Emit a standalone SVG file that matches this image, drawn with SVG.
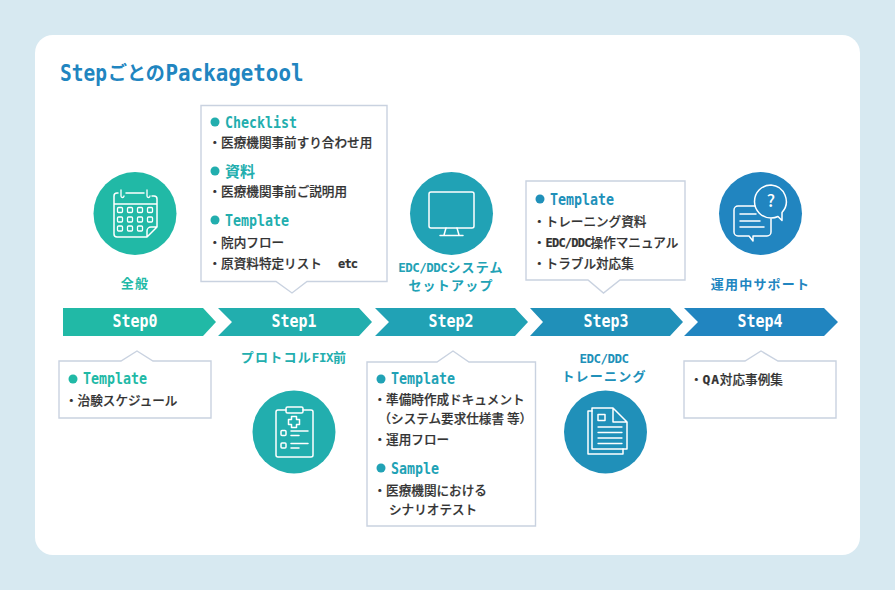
<svg xmlns="http://www.w3.org/2000/svg" width="895" height="590" viewBox="0 0 895 590">
<style>
text{font-family:"Noto Sans CJK JP","Noto Sans",sans-serif}
.b{font-size:12.6px;font-weight:500;fill:#333;stroke:#333;stroke-width:.2px}
.m{font-family:"DejaVu Sans Mono","Noto Sans CJK JP",monospace;font-weight:700}
.bm{font-family:"DejaVu Sans Mono",monospace;font-weight:700;font-size:12px;letter-spacing:-.8px}
.qa{font-family:"DejaVu Sans Mono",monospace;font-weight:700;font-size:13px;letter-spacing:.8px}
.h{font-size:16px}
.s{font-size:18px;fill:#fff;text-anchor:middle}
.l{font-size:13px;font-weight:700;text-anchor:middle;letter-spacing:1.200px}
.lm{font-family:"DejaVu Sans Mono",monospace;font-size:12.500px;letter-spacing:-.5px}
.bx{fill:#fff;stroke:#c9d2e0;stroke-width:1.4}
.i{fill:none;stroke:#fff;stroke-width:1.5;stroke-linejoin:round;stroke-linecap:round}
.c0{fill:#21b9a6}.c1{fill:#22aeae}.c2{fill:#21a2b5}.c3{fill:#2090b9}.c4{fill:#2185c0}
</style>
<rect width="895" height="590" fill="#d7e9f1"/>
<rect x="35" y="35" width="825" height="520" rx="18" fill="#fff"/>
<g id="title" class="c4">
<text x="60" y="81" font-weight="700"><tspan class="m" font-size="23" textLength="47" lengthAdjust="spacingAndGlyphs">Step</tspan><tspan x="108" y="80" font-size="19">ごとの</tspan><tspan class="m" x="165.500" y="81" font-size="23" textLength="138" lengthAdjust="spacingAndGlyphs">Packagetool</tspan></text>
</g>
<g id="connectors">
<polygon class="c0" points="63,308 203,308 216,322 203,336 63,336"/>
<polygon class="c1" points="218,308 359,308 372,322 359,336 218,336 232,322"/>
<polygon class="c2" points="375,308 515,308 528,322 515,336 375,336 389,322"/>
<polygon class="c3" points="530,308 670,308 683,322 670,336 530,336 543,322"/>
<polygon class="c4" points="684,308 824,308 838,322 824,336 684,336 698,322"/>
</g>
<g id="step0">
<text class="m s" x="135" y="327" textLength="45" lengthAdjust="spacingAndGlyphs">Step0</text>
<circle class="c0" cx="135" cy="213.500" r="41.500"/>
<g class="i">
<path d="M118 193h-1a3 3 0 0 0-3 3v38a3 3 0 0 0 3 3h30l10-10v-28a3 3 0 0 0-3-3h-2M126 193h18M114 204h43M147 237v-6a4 4 0 0 1 4-4h6"/>
<path d="M121 190v6a1.500 1.500 0 0 0 3 0M147 190v6a1.500 1.500 0 0 0 3 0" stroke-width="1.300"/>
<g stroke-width="1.300">
<rect x="117.500" y="207.500" width="5" height="5" rx="1"/><rect x="127.500" y="207.500" width="5" height="5" rx="1"/><rect x="137.500" y="207.500" width="5" height="5" rx="1"/><rect x="147.500" y="207.500" width="5" height="5" rx="1"/>
<rect x="117.500" y="217" width="5" height="5" rx="1"/><rect x="127.500" y="217" width="5" height="5" rx="1"/><rect x="137.500" y="217" width="5" height="5" rx="1"/><rect x="147.500" y="217" width="5" height="5" rx="1"/>
<rect x="117.500" y="226" width="5" height="5" rx="1"/><rect x="127.500" y="226" width="5" height="5" rx="1"/><rect x="137.500" y="226" width="5" height="5" rx="1"/>
</g></g>
<text class="l c0" x="135" y="288">全般</text>
<path class="bx" d="M59 361H121L137 351L153 361H211V418H59Z"/>
<circle class="c0" cx="73" cy="379" r="4.500"/>
<text class="m h c0" x="83" y="384" textLength="64" lengthAdjust="spacingAndGlyphs">Template</text>
<text class="b" x="65" y="405">・治験スケジュール</text>
</g>
<g id="step1">
<text class="m s" x="294" y="327" textLength="45" lengthAdjust="spacingAndGlyphs">Step1</text>
<path class="bx" d="M201 105.500H387V281.500H307L292 293L276 281.500H201Z"/>
<circle class="c1" cx="215" cy="122" r="4.500"/>
<text class="m h c1" x="225" y="128" textLength="72" lengthAdjust="spacingAndGlyphs">Checklist</text>
<text class="b" x="208.500" y="147">・医療機関事前すり合わせ用</text>
<circle class="c1" cx="215" cy="171" r="4.500"/>
<text class="c1" x="225" y="177" font-size="15" font-weight="700">資料</text>
<text class="b" x="208.500" y="196">・医療機関事前ご説明用</text>
<circle class="c1" cx="215" cy="220" r="4.500"/>
<text class="m h c1" x="225" y="226" textLength="64" lengthAdjust="spacingAndGlyphs">Template</text>
<text class="b" x="208.500" y="247">・院内フロー</text>
<text class="b" x="208.500" y="268">・原資料特定リスト</text>
<text class="b bm" x="338" y="268">etc</text>
<text class="l c1" x="294" y="362">プロトコル<tspan class="lm">FIX</tspan>前</text>
<circle class="c1" cx="294" cy="432" r="41.500"/>
<g class="i">
<path d="M286 410h-8a2 2 0 0 0-2 2v43a2 2 0 0 0 2 2h33a2 2 0 0 0 2-2V412a2 2 0 0 0-2-2h-8"/>
<rect x="286" y="407" width="17" height="6" rx="1.500"/>
<path d="M291.500 416.500h5v3h3v5h-3v3h-5v-3h-3v-5h3z"/>
<rect x="281" y="430.500" width="5" height="5" rx="1"/><rect x="281" y="443" width="5" height="5" rx="1"/>
<path d="M291 431h17M291 435.500h8M291 443.500h17M291 448h8"/>
</g>
</g>
<g id="step2">
<text class="m s" x="451" y="327" textLength="45" lengthAdjust="spacingAndGlyphs">Step2</text>
<circle class="c2" cx="451.500" cy="213.500" r="41.500"/>
<g class="i">
<rect x="429" y="192" width="45" height="36" rx="2"/>
<path d="M446 228l-2 7M457 228l2 7M440 235.500h23"/>
</g>
<text class="l c2" x="451" y="272"><tspan class="lm">EDC/DDC</tspan>システム</text>
<text class="l c2" x="451" y="289.500">セットアップ</text>
<path class="bx" d="M367 362H437L453 351L469 362H535.500V526H367Z"/>
<circle class="c2" cx="381" cy="379" r="4.500"/>
<text class="m h c2" x="391" y="384" textLength="64" lengthAdjust="spacingAndGlyphs">Template</text>
<text class="b" x="373.500" y="404">・準備時作成ドキュメント</text>
<text class="b" x="378.500" y="422.500">（システム要求仕様書 等）</text>
<text class="b" x="373.500" y="444">・運用フロー</text>
<circle class="c2" cx="381" cy="468" r="4.500"/>
<text class="m h c2" x="391" y="474" textLength="48" lengthAdjust="spacingAndGlyphs">Sample</text>
<text class="b" x="373.500" y="495">・医療機関における</text>
<text class="b" x="389" y="513.500">シナリオテスト</text>
</g>
<g id="step3">
<text class="m s" x="606" y="327" textLength="45" lengthAdjust="spacingAndGlyphs">Step3</text>
<path class="bx" d="M526 181H685V280H620L603.500 293L588 280H526Z"/>
<circle class="c3" cx="540" cy="199" r="4.500"/>
<text class="m h c3" x="550" y="205" textLength="64" lengthAdjust="spacingAndGlyphs">Template</text>
<text class="b" x="533" y="226">・トレーニング資料</text>
<text class="b" x="533" y="247">・<tspan class="bm">EDC/DDC</tspan>操作マニュアル</text>
<text class="b" x="533" y="268">・トラブル対応集</text>
<text class="l c3" x="604" y="363"><tspan class="lm">EDC/DDC</tspan></text>
<text class="l c3" x="604" y="380.500">トレーニング</text>
<circle class="c3" cx="605.500" cy="432" r="41.500"/>
<g class="i">
<path d="M592 411h-4v43h35v-5"/>
<path d="M592 408v41h35v-27l-14-14zM613 408v14h14"/>
<rect x="598" y="414.500" width="7" height="6"/>
<path d="M598 427h24M598 432.500h24M598 438h24M598 443.500h24" stroke-width="1.300"/>
</g>
</g>
<g id="step4">
<text class="m s" x="760" y="327" textLength="45" lengthAdjust="spacingAndGlyphs">Step4</text>
<circle class="c4" cx="760.500" cy="213.500" r="41.500"/>
<g class="i">
<path d="M755 206h-17a4 4 0 0 0-4 4v22a4 4 0 0 0 4 4h11l4 5v-5h14a4 4 0 0 0 4-4v-13"/>
<path d="M740 214h16M740 221h20M740 227h24"/>
<path d="M771 185a16.500 16.500 0 1 0 0 33c3 0 5-.5 7-1.500l4 4v-8a16.500 16.500 0 0 0-11-27.500z"/>
</g>
<text x="771" y="207" font-size="17" font-weight="500" fill="#fff" text-anchor="middle">?</text>
<text class="l c4" x="760.500" y="289">運用中サポート</text>
<path class="bx" d="M684 361H745L761 351L778 361H836V418H684Z"/>
<text class="b" x="690" y="384">・<tspan class="qa">QA</tspan>対応事例集</text>
</g>
</svg>
